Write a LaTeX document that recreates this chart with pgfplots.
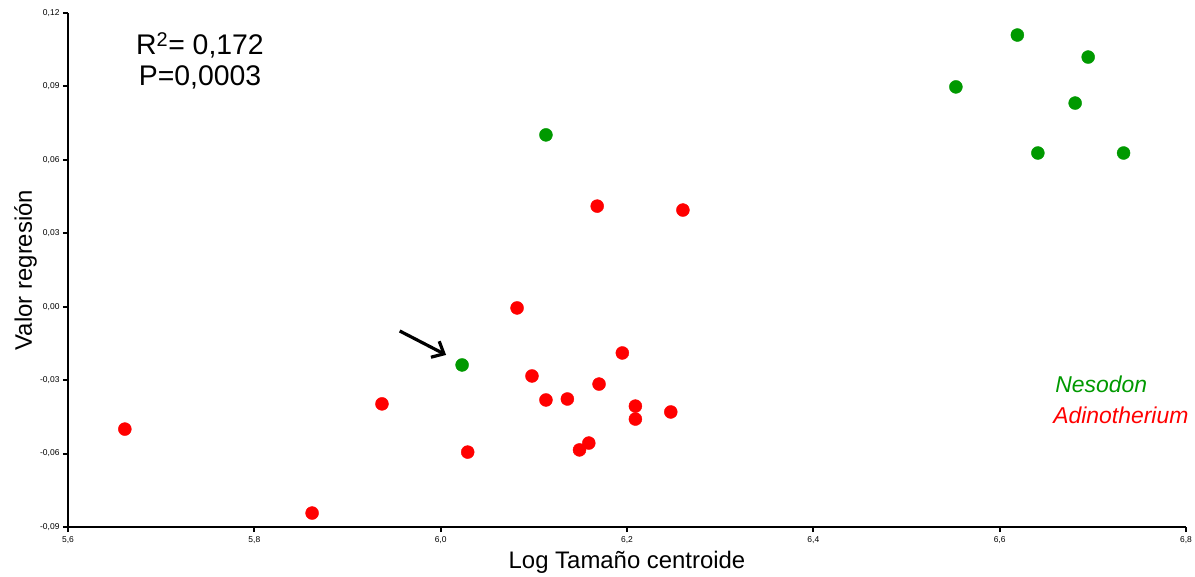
\documentclass[border=0pt]{standalone}
\usepackage{pgfplots}
\pgfplotsset{compat=1.18}
\usepackage{fontspec}
\setmainfont{Liberation Sans}
\usetikzlibrary{arrows.meta}
\definecolor{ng}{RGB}{0,153,0}
\definecolor{nr}{RGB}{255,0,0}
\begin{document}
\begin{tikzpicture}
\begin{axis}[
  scale only axis, width=1118bp, height=514bp,
  xmin=5.6, xmax=6.8, ymin=-0.09, ymax=0.12,
  axis lines=left,
  axis line style={-, line width=2.4bp},
  xtick={5.6,5.8,6.0,6.2,6.4,6.6,6.8},
  xticklabels={{5,6},{5,8},{6,0},{6,2},{6,4},{6,6},{6,8}},
  ytick={-0.09,-0.06,-0.03,0,0.03,0.06,0.09,0.12},
  yticklabels={{-0,09},{-0,06},{-0,03},{0,00},{0,03},{0,06},{0,09},{0,12}},
  tick align=outside, major tick length=5bp,
  tick style={line width=2bp, black},
  ticklabel style={font=\fontsize{8.5}{10}\selectfont},
  xticklabel style={yshift=-1bp},
  xlabel={Log Tamaño centroide},
  ylabel={Valor regresión},
  label style={font=\fontsize{24}{28}\selectfont},
  xlabel style={at={(axis description cs:0.5,0)}, anchor=base, yshift=-41bp},
  ylabel style={at={(axis description cs:0,0.5)}, anchor=base, yshift=36bp},
  clip=false,
]
\addplot[only marks, mark=*, mark size=6.5bp, mark options={draw=nr, fill=nr}, color=nr] coordinates {
 (5.661,-0.0500) (5.862,-0.0843) (5.937,-0.0397) (6.029,-0.0594)
 (6.082,-0.0005) (6.098,-0.0283) (6.113,-0.0381) (6.136,-0.0377)
 (6.149,-0.0585) (6.159,-0.0557) (6.168,0.0411) (6.170,-0.0316)
 (6.195,-0.0189) (6.209,-0.0406) (6.209,-0.0459) (6.247,-0.0430)
 (6.260,0.0395)
};
\addplot[only marks, mark=*, mark size=6.5bp, mark options={draw=ng, fill=ng}, color=ng] coordinates {
 (6.619,0.1110) (6.695,0.1020) (6.553,0.0898) (6.681,0.0832)
 (6.641,0.0628) (6.733,0.0628) (6.113,0.0702) (6.023,-0.0238)
};
\draw[line width=3.2bp, -{Straight Barb[length=10bp, width=18bp, line width=3.2bp]}] (axis cs:5.956,-0.0099) -- (axis cs:6.0058,-0.0197);
\node[anchor=base, inner sep=0pt, font=\fontsize{28.5}{32}\selectfont] at (axis cs:5.7417,0.10284) {R\textsuperscript{2}= 0,172};
\node[anchor=base, inner sep=0pt, font=\fontsize{28.5}{32}\selectfont] at (axis cs:5.7417,0.09058) {P=0,0003};
\node[anchor=base west, inner sep=0pt, font=\fontsize{23}{27}\selectfont\itshape, text=ng] at (axis cs:6.6596,-0.03525) {Nesodon};
\node[anchor=base west, inner sep=0pt, font=\fontsize{23}{27}\selectfont\itshape, text=nr] at (axis cs:6.6574,-0.04751) {Adinotherium};
\end{axis}
\pgfresetboundingbox
\path ([shift={(-68bp,-49bp)}]current axis.south west) rectangle ([shift={(9bp,13bp)}]current axis.north east);
\end{tikzpicture}
\end{document}
